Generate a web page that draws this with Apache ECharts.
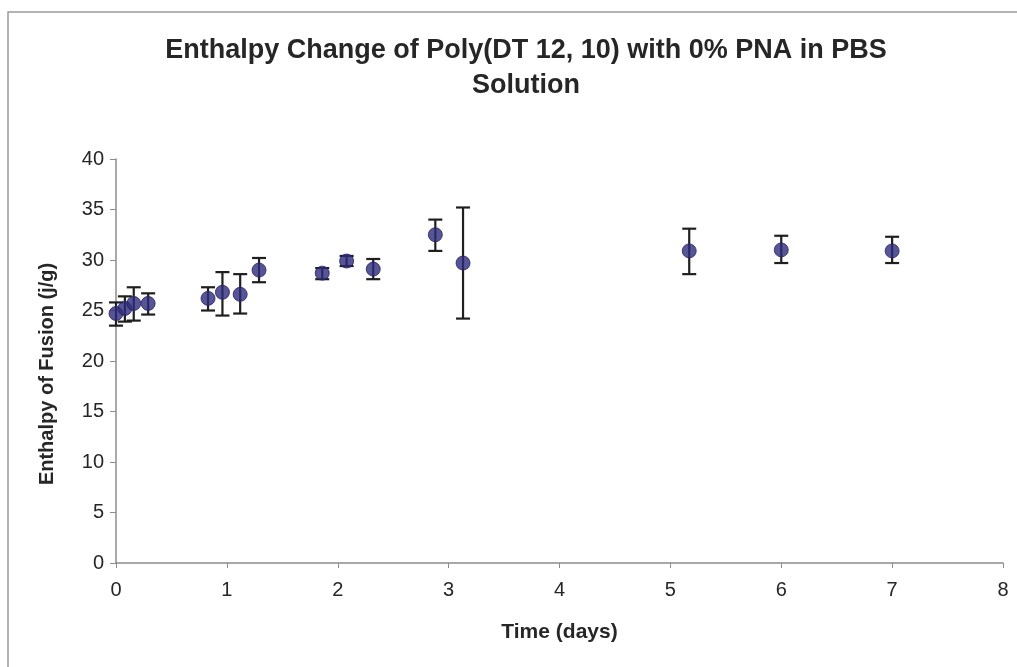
<!DOCTYPE html>
<html>
<head>
<meta charset="utf-8">
<title>Enthalpy Change of Poly(DT 12, 10)</title>
<script src="https://cdn.jsdelivr.net/npm/echarts@6/dist/echarts.min.js"></script>
<style>
  html, body { margin: 0; padding: 0; background: #ffffff; }
  #chart { width: 1017px; height: 667px; }
</style>
</head>
<body>
<div id="chart"></div>
<script>
// Measurement times (days) and enthalpy of fusion (J/g) with error bar limits
var days   = [0, 0.08, 0.16, 0.29, 0.83, 0.96, 1.12, 1.29, 1.86, 2.08, 2.32, 2.88, 3.13, 5.17, 6.0, 7.0];
var values = [24.7, 25.2, 25.7, 25.7, 26.2, 26.8, 26.6, 29.0, 28.7, 29.9, 29.1, 32.5, 29.7, 30.9, 31.0, 30.9];
var upper  = [25.8, 26.4, 27.3, 26.7, 27.3, 28.8, 28.6, 30.2, 29.2, 30.4, 30.1, 34.0, 35.2, 33.1, 32.4, 32.3];
var lower  = [23.5, 23.9, 24.0, 24.6, 25.0, 24.5, 24.7, 27.8, 28.1, 29.4, 28.1, 30.9, 24.2, 28.6, 29.7, 29.7];

var xTicks = [0, 1, 2, 3, 4, 5, 6, 7, 8];
var yTicks = [0, 5, 10, 15, 20, 25, 30, 35, 40];

var titleText = 'Enthalpy Change of Poly(DT 12, 10) with 0% PNA in PBS\nSolution';
var xName = 'Time (days)';
var yName = 'Enthalpy of Fusion (j/g)';

var points = days.map(function (d, i) { return [d, values[i]]; });
var bars = days.map(function (d, i) { return [d, lower[i], upper[i]]; });

var chart = echarts.init(document.getElementById('chart'), null, { renderer: 'canvas' });

var font = '"Liberation Sans", Arial, sans-serif';
var textColor = '#262626';

chart.setOption({
  animation: false,
  backgroundColor: '#ffffff',
  title: {
    text: titleText,
    left: 521,
    top: 28,
    textAlign: 'center',
    textStyle: {
      fontFamily: font,
      fontSize: 27,
      fontWeight: 'bold',
      color: textColor,
      lineHeight: 35
    }
  },
  graphic: [
    {
      type: 'polyline',
      shape: { points: [[8, 700], [8, 12], [1030, 12]] },
      style: { stroke: '#9a9a9a', lineWidth: 1.5, fill: null },
      silent: true
    }
  ],
  grid: { left: 116, right: 14, top: 159, bottom: 104, containLabel: false },
  xAxis: {
    type: 'value',
    min: 0,
    max: 8,
    interval: 1,
    name: xName,
    nameLocation: 'middle',
    nameGap: 59,
    nameTextStyle: { fontFamily: font, fontSize: 21, fontWeight: 'bold', color: textColor },
    axisLine: { show: true, onZero: false, lineStyle: { color: '#8c8c8c', width: 1.5 } },
    axisTick: { show: true, inside: false, length: 5, lineStyle: { color: '#8c8c8c' } },
    axisLabel: {
      fontFamily: font, fontSize: 20, color: textColor, margin: 17,
      formatter: function (v) { return xTicks.indexOf(v) >= 0 ? String(v) : ''; }
    },
    splitLine: { show: false }
  },
  yAxis: {
    type: 'value',
    min: 0,
    max: 40,
    interval: 5,
    name: yName,
    nameLocation: 'middle',
    nameGap: 59,
    nameTextStyle: {
      fontFamily: font, fontSize: 20, fontWeight: 'bold', color: textColor,
      padding: [0, 26, 0, 0]
    },
    axisLine: { show: true, lineStyle: { color: '#8c8c8c', width: 1.5 } },
    axisTick: { show: true, inside: false, length: 6, lineStyle: { color: '#8c8c8c' } },
    axisLabel: {
      fontFamily: font, fontSize: 20, color: textColor, margin: 12,
      formatter: function (v) { return yTicks.indexOf(v) >= 0 ? String(v) : ''; }
    },
    splitLine: { show: false }
  },
  series: [
    {
      type: 'custom',
      name: 'error',
      data: bars,
      z: 2,
      renderItem: function (params, api) {
        var x = api.value(0);
        var lo = api.coord([x, api.value(1)]);
        var hi = api.coord([x, api.value(2)]);
        var hw = 7;
        var st = { stroke: '#1f1f1f', lineWidth: 2.2 };
        return {
          type: 'group',
          children: [
            { type: 'line', shape: { x1: lo[0], y1: lo[1], x2: hi[0], y2: hi[1] }, style: st },
            { type: 'line', shape: { x1: hi[0] - hw, y1: hi[1], x2: hi[0] + hw, y2: hi[1] }, style: st },
            { type: 'line', shape: { x1: lo[0] - hw, y1: lo[1], x2: lo[0] + hw, y2: lo[1] }, style: st }
          ]
        };
      }
    },
    {
      type: 'scatter',
      name: 'enthalpy',
      data: points,
      z: 3,
      symbol: 'circle',
      symbolSize: 14,
      itemStyle: { color: '#2e2b7c', borderColor: '#24215e', borderWidth: 1 }
    }
  ]
});
</script>
</body>
</html>
